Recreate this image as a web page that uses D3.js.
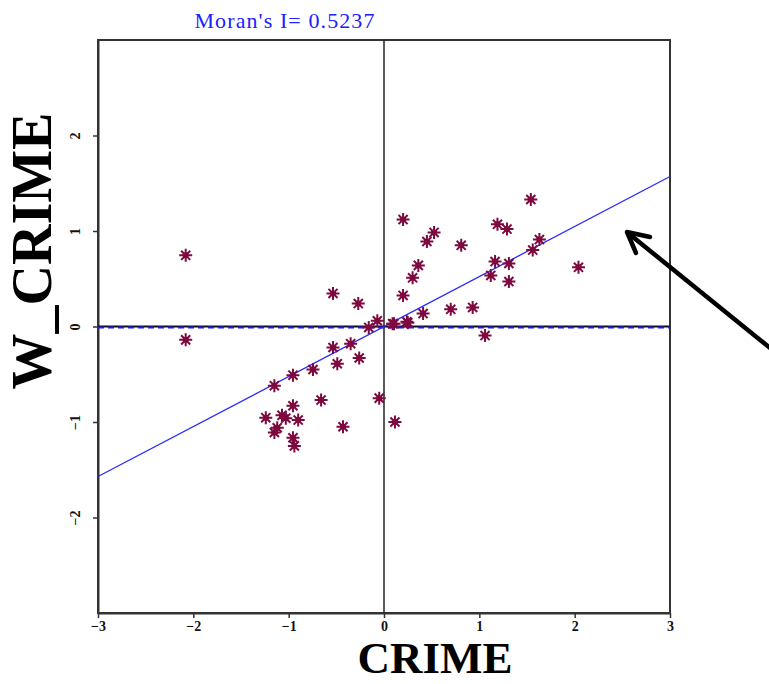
<!DOCTYPE html>
<html>
<head>
<meta charset="utf-8">
<script src="https://cdn.jsdelivr.net/npm/d3@7"></script>
<style>
  body { margin: 0; background: #fff; }
</style>
</head>
<body>
<script>
// ================================
// DATA
// ================================
var moranI = 0.5237;

// standardized crime (x) values
var crimeVals = [
    -2.08, -2.08, -0.535, -0.27, -0.07, -0.16, 0.105, 0.24, -0.535, -0.35,
    -0.49, -0.26, -0.745, -0.955, -1.15, -0.66, -0.05, 0.115, -0.43, -0.955,
    -1.24, -1.07, -1.03, -0.9, -1.12, -1.15, -0.955, -0.94,
    0.2, 0.45, 0.525, 0.36, 0.30, 0.2, 0.41, 0.25, 0.09, 0.81,
    0.70, 0.93, 1.06, 1.19, 1.29, 1.54, 1.165, 1.31, 1.12, 1.31,
    1.63, 1.56, 2.04
];

// spatial lag (y) values
var wCrimeVals = [
    0.745, -0.14, 0.346, 0.24, 0.06, -0.01, 0.03, 0.05, -0.22, -0.18,
    -0.39, -0.33, -0.45, -0.51, -0.62, -0.77, -0.75, -1.0, -1.05, -0.83,
    -0.955, -0.93, -0.96, -0.98, -1.06, -1.11, -1.165, -1.25,
    1.12, 0.89, 0.985, 0.64, 0.51, 0.325, 0.135, 0.04, 0.03, 0.85,
    0.18, 0.20, -0.095, 1.07, 1.02, 1.33, 0.68, 0.66, 0.535, 0.47,
    0.91, 0.80, 0.62
];

var xTicks = [-3, -2, -1, 0, 1, 2, 3];
var yTicks = [-2, -1, 0, 1, 2];

// ================================
// SVG + SCALES
// ================================
var width = 769,
    height = 684;

var svg = d3.select("body")
    .append("svg")
    .attr("width", width)
    .attr("height", height);

var x = d3.scaleLinear().domain([-3, 3]).range([98, 670]);
var y = d3.scaleLinear().domain([-3, 3]).range([613, 40]);

// frame
svg.append("rect")
    .attr("x", x(-3))
    .attr("y", y(3))
    .attr("width", x(3) - x(-3))
    .attr("height", y(-3) - y(3))
    .attr("fill", "none")
    .attr("stroke", "#333")
    .attr("stroke-width", 2);

// axes
var xAxis = svg.append("g")
    .attr("transform", "translate(0," + y(-3) + ")")
    .call(d3.axisBottom(x).tickValues(xTicks).tickSize(5).tickSizeOuter(0).tickFormat(d3.format("d")));

var yAxis = svg.append("g")
    .attr("transform", "translate(" + x(-3) + ",0)")
    .call(d3.axisLeft(y).tickValues(yTicks).tickSize(5).tickSizeOuter(0).tickFormat(d3.format("d")));

[xAxis, yAxis].forEach(function(g){
    g.select(".domain").attr("stroke", "#333").attr("stroke-width", 2);
    g.selectAll(".tick line").attr("stroke", "#333").attr("stroke-width", 1.5);
    g.selectAll(".tick text")
        .attr("fill", "#111")
        .attr("font-family", "Liberation Serif, serif")
        .attr("font-weight", "bold")
        .attr("font-size", 14);
});
xAxis.selectAll(".tick text").attr("y", 8);

// rotated y tick labels
yAxis.selectAll(".tick text")
    .attr("x", 0)
    .attr("y", 0)
    .attr("dy", 0)
    .attr("text-anchor", "middle")
    .attr("transform", "translate(-21,0) rotate(-90)")
    .attr("dominant-baseline", "middle");

// zero lines
svg.append("line")
    .attr("x1", x(0)).attr("x2", x(0))
    .attr("y1", y(3)).attr("y2", y(-3))
    .attr("stroke", "#222").attr("stroke-width", 1.5);

svg.append("line")
    .attr("x1", x(-3)).attr("x2", x(3))
    .attr("y1", y(0)).attr("y2", y(0))
    .attr("stroke", "#111").attr("stroke-width", 2);

svg.append("line")
    .attr("x1", x(-3)).attr("x2", x(3))
    .attr("y1", y(0) + 1).attr("y2", y(0) + 1)
    .attr("stroke", "#1a1aff").attr("stroke-width", 2)
    .attr("stroke-dasharray", "6,4");

// regression line (slope = Moran's I)
svg.append("line")
    .attr("x1", x(-3)).attr("y1", y(-3 * moranI))
    .attr("x2", x(3)).attr("y2", y(3 * moranI))
    .attr("stroke", "#2a2aff").attr("stroke-width", 1.3);

// points as asterisks
var pts = crimeVals.map(function(d, i){ return [d, wCrimeVals[i]]; });
var r = 6.5;
var marks = svg.selectAll(".pt")
    .data(pts)
    .enter()
    .append("g")
    .attr("class", "pt")
    .attr("transform", function(d){ return "translate(" + x(d[0]) + "," + y(d[1]) + ")"; });

marks.append("path")
    .attr("d", "M" + (-r) + ",0L" + r + ",0M0," + (-r) + "L0," + r +
        "M" + (-r * 0.7) + "," + (-r * 0.7) + "L" + (r * 0.7) + "," + (r * 0.7) +
        "M" + (-r * 0.7) + "," + (r * 0.7) + "L" + (r * 0.7) + "," + (-r * 0.7))
    .attr("stroke", "#7d0a3f")
    .attr("stroke-width", 2);
marks.append("circle")
    .attr("r", 3)
    .attr("fill", "#7d0a3f");

// title
svg.append("text")
    .attr("x", 285)
    .attr("y", 28)
    .attr("text-anchor", "middle")
    .attr("font-family", "Liberation Serif, serif")
    .attr("font-size", 22)
    .attr("letter-spacing", 1.1)
    .attr("fill", "#2020ff")
    .text("Moran's I= " + moranI);

// axis labels
svg.append("text")
    .attr("x", 435)
    .attr("y", 673)
    .attr("text-anchor", "middle")
    .attr("font-family", "Liberation Serif, serif")
    .attr("font-weight", "bold")
    .attr("font-size", 45)
    .text("CRIME");

svg.append("text")
    .attr("transform", "translate(51,251) rotate(-90)")
    .attr("text-anchor", "middle")
    .attr("font-family", "Liberation Serif, serif")
    .attr("font-weight", "bold")
    .attr("font-size", 56)
    .text("W_CRIME");

// arrow
svg.append("line")
    .attr("x1", 780).attr("y1", 356)
    .attr("x2", 628).attr("y2", 233)
    .attr("stroke", "#000").attr("stroke-width", 4.5);
svg.append("path")
    .attr("d", "M650,237L627,232L636,253")
    .attr("fill", "none")
    .attr("stroke", "#000")
    .attr("stroke-width", 4.5)
    .attr("stroke-linecap", "round")
    .attr("stroke-linejoin", "round");
</script>
</body>
</html>
